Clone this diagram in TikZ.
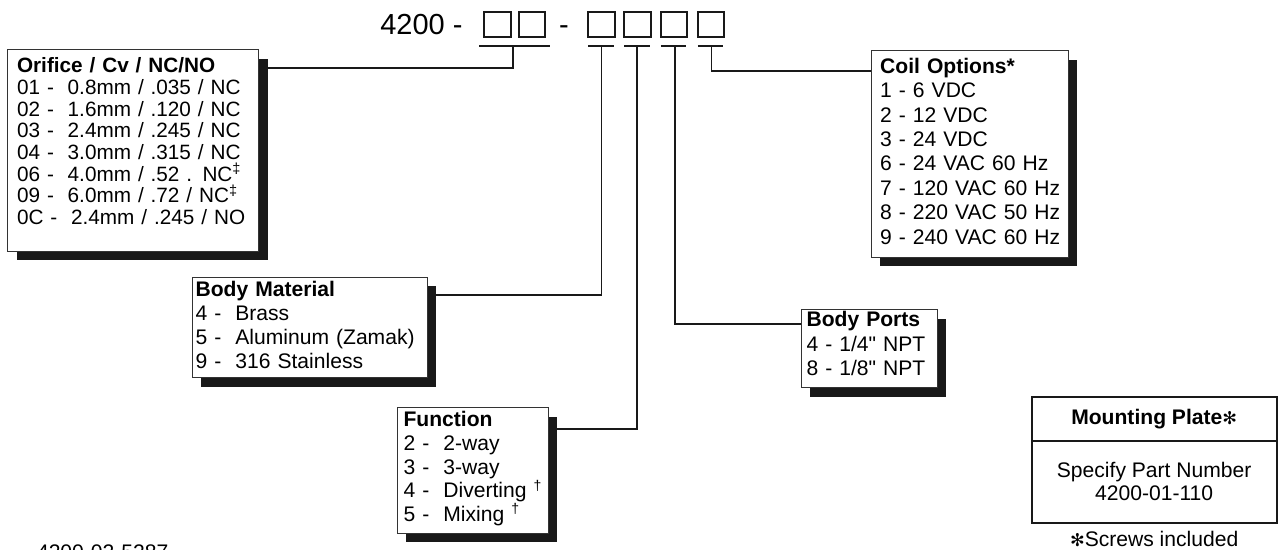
\documentclass[tikz,border=0pt]{standalone}
\usepackage{fontspec}
\setmainfont{Liberation Sans}
\newfontfamily\symfont{DejaVu Sans}
\usepackage{tikz}
\usetikzlibrary{positioning,calc,shadows,backgrounds}

\begin{document}
\begin{tikzpicture}[
    x=0.02cm, y=-0.02cm,
    font=\fontsize{12}{13.6}\selectfont,
    optbox/.style={rectangle, draw=black!80, line width=0.6pt, fill=white, anchor=north west, inner sep=0pt,
        general shadow={fill=black!90, shadow xshift=0.18cm, shadow yshift=-0.18cm}},
    listtext/.style={anchor=base west, inner sep=0pt, align=left, text width=#1},
    listtext/.default=6cm,
    digit/.style={rectangle, draw=black!90, line width=1.1pt, minimum width=0.53cm, minimum height=0.49cm, inner sep=0pt},
    lead/.style={draw=black!90, line width=1.1pt},
    mountbox/.style={rectangle, draw=black!90, line width=1.1pt, minimum width=4.9cm, inner sep=0pt, outer sep=0pt, align=center}
]
    \useasboundingbox (0,0) rectangle (1282,550);

    % Part number with its blank digits
    \node[anchor=base west, inner sep=0pt, font=\fontsize{16.5}{18}\selectfont] (code) at (380,35) {4200 -};
    \node[digit] (sq1) at (497.5,24.5) {};
    \node[digit] (sq2) at (532,24.5) {};
    \node[anchor=base, inner sep=0pt, font=\fontsize{16.5}{18}\selectfont] (dash) at (564,35) {-};
    \node[digit] (sq3) at (601.5,24.5) {};
    \node[digit] (sq4) at (637.5,24.5) {};
    \node[digit] (sq5) at (674,24.5) {};
    \node[digit] (sq6) at (711,24.5) {};

    % Underlines and their stems
    \draw[lead] ($(sq1.south west)+(-4,8.4)$) -- ($(sq2.south east)+(4,8.4)$);
    \draw[lead] ($(sq3.south west)+(1,8.4)$) -- ($(sq3.south east)+(-2,8.4)$);
    \draw[lead] ($(sq4.south west)+(1,8.4)$) -- ($(sq4.south east)+(-2,8.4)$);
    \draw[lead] ($(sq5.south west)+(1,8.4)$) -- ($(sq5.south east)+(-2,8.4)$);
    \draw[lead] ($(sq6.south west)+(1,8.4)$) -- ($(sq6.south east)+(-2,8.4)$);
    \coordinate (s1) at ($(sq1.south)!0.5!(sq2.south)+(-1.5,8.4)$);
    \coordinate (s3) at ($(sq3.south)+(0,8.4)$);
    \coordinate (s4) at ($(sq4.south)+(-0.5,8.4)$);
    \coordinate (s5) at ($(sq5.south)+(1,8.4)$);
    \coordinate (s6) at ($(sq6.south)+(0.5,8.4)$);

    % Option boxes
    \node[optbox, minimum width=5.02cm, minimum height=4.03cm] (orifice) at (7.3,49.3) {};
    \node[listtext, font=\fontsize{11.8}{12.35}\selectfont] (orificetxt) at ($(orifice.north west)+(9.4,23.4)$)
        {\textbf{Orifice / Cv / NC/NO}\\
         01 -~ 0.8mm / .035 / NC\\
         02 -~ 1.6mm / .120 / NC\\
         03 -~ 2.4mm / .245 / NC\\
         04 -~ 3.0mm / .315 / NC\\
         06 -~ 4.0mm / .52 . NC\textsuperscript{‡}\\
         09 -~ 6.0mm / .72 / NC\textsuperscript{‡}\\
         0C -~ 2.4mm / .245 / NO};

    \node[optbox, minimum width=4.70cm, minimum height=2.01cm] (material) at (191.7,276.7) {};
    \node[listtext, font=\fontsize{12}{13.65}\selectfont] (materialtxt) at ($(material.north west)+(3.5,20)$)
        {\textbf{Body Material}\\
         4 -~ Brass\\
         5 -~ Aluminum (Zamak)\\
         9 -~ 316 Stainless};

    \node[optbox, minimum width=3.02cm, minimum height=2.51cm] (function) at (396.7,407.3) {};
    \node[listtext, font=\fontsize{12}{13.5}\selectfont] (functiontxt) at ($(function.north west)+(6.5,19.4)$)
        {\textbf{Function}\\
         2 -~ 2-way\\
         3 -~ 3-way\\
         4 -~ Diverting \textsuperscript{†}\\
         5 -~ Mixing \textsuperscript{†}};

    \node[optbox, minimum width=2.72cm, minimum height=1.56cm] (ports) at (800.7,309.3) {};
    \node[listtext, font=\fontsize{12}{13.9}\selectfont] (portstxt) at ($(ports.north west)+(5.5,17.7)$)
        {\textbf{Body Ports}\\
         4 - 1/4\textquotedbl{} NPT\\
         8 - 1/8\textquotedbl{} NPT};

    \node[optbox, minimum width=3.95cm, minimum height=4.14cm] (coil) at (870.5,50) {};
    \node[listtext, font=\fontsize{12}{13.9}\selectfont] (coiltxt) at ($(coil.north west)+(9.3,23.3)$)
        {\textbf{Coil Options*}\\
         1 - 6 VDC\\
         2 - 12 VDC\\
         3 - 24 VDC\\
         6 - 24 VAC 60 Hz\\
         7 - 120 VAC 60 Hz\\
         8 - 220 VAC 50 Hz\\
         9 - 240 VAC 60 Hz};

    % Leaders from the digits to the boxes
    \begin{scope}[on background layer]
        \draw[lead] (s1) |- ($(orifice.north east)+(0,18.7)$);
        \draw[lead] (s3) |- ($(material.north east)+(0,18.3)$);
        \draw[lead] (s4) |- ($(function.north east)+(0,22)$);
        \draw[lead] (s5) |- ($(ports.north west)+(0,14.7)$);
        \draw[lead] (s6) |- ($(coil.north west)+(0,20.7)$);
    \end{scope}

    % Mounting plate
    \node[mountbox, minimum height=0.886cm, anchor=north west] (mounthead) at (1031.7,396.7)
        {\textbf{Mounting Plate}{\symfont\fontsize{10}{12}\selectfont ✻}};
    \node[mountbox, minimum height=1.634cm, below=0pt of mounthead, font=\fontsize{12}{13.2}\selectfont] (mountbody)
        {Specify Part Number\\4200-01-110};
    \node[anchor=base, inner sep=0pt] (screws) at ($(mountbody.south)+(0,24)$)
        {{\symfont\fontsize{10}{12}\selectfont ✻}Screws included};

    \node[anchor=base west, inner sep=0pt] (drawingno) at (36.7,560) {4200-02-5287};
\end{tikzpicture}
\end{document}
